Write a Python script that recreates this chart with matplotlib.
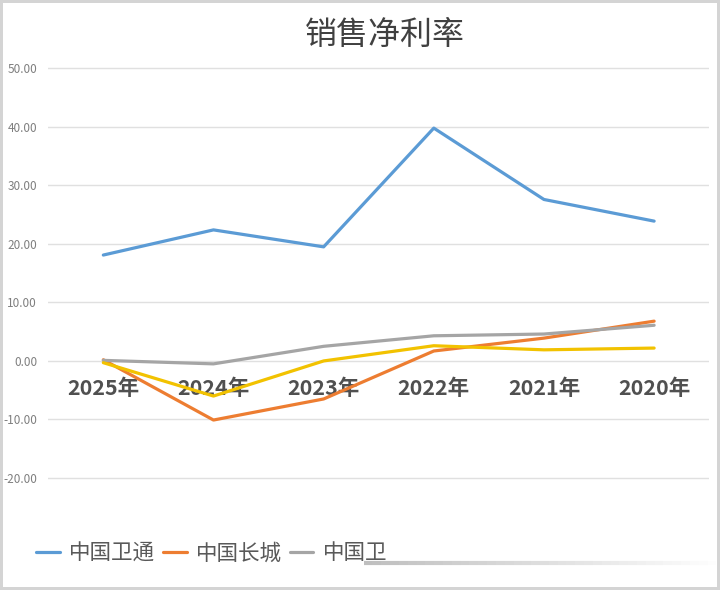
import matplotlib
matplotlib.use('agg')
import matplotlib.pyplot as plt
from matplotlib.collections import LineCollection

plt.rcParams['font.family'] = ['Noto Sans CJK SC', 'DejaVu Sans']

# data
years = ['2025年', '2024年', '2023年', '2022年', '2021年', '2020年']
weitong = [18.1, 22.4, 19.5, 39.8, 27.6, 23.9]
changcheng = [0.2, -10.1, -6.5, 1.7, 3.9, 6.8]
weixing = [0.1, -0.5, 2.5, 4.3, 4.6, 6.1]
fourth = [-0.3, -6.0, 0.0, 2.6, 1.9, 2.2]
series_names = ['中国卫通', '中国长城', '中国卫']
y_ticks = [-20, -10, 0, 10, 20, 30, 40, 50]

fig = plt.figure(figsize=(7.2, 5.9), dpi=100)
fig.patch.set_edgecolor('#d4d4d4')
fig.patch.set_linewidth(3)
ax = fig.add_axes([0.067, 0.18, 0.918, 0.707])

x = list(range(len(years)))
l1, = ax.plot(x, weitong, color='#5B9BD5', lw=2.3, solid_capstyle='round')
l2, = ax.plot(x, changcheng, color='#ED7D31', lw=2.3, solid_capstyle='round')
l3, = ax.plot(x, weixing, color='#A5A5A5', lw=2.3, solid_capstyle='round')
ax.plot(x, fourth, color='#F2C200', lw=2.3, solid_capstyle='round')

ax.set_xlim(-0.5, len(years) - 0.5)
ax.set_ylim(-21, 50.3)
ax.set_yticks(y_ticks)
ax.set_yticklabels(['%.2f' % v for v in y_ticks], color='#7f7f7f', fontsize=8.5)
ax.yaxis.grid(True, color='#e0e0e0', lw=1)
ax.set_axisbelow(True)
ax.tick_params(axis='y', length=0, pad=8)

# category labels sit under the zero line
ax.spines['bottom'].set_position(('data', 0))
ax.set_xticks(x)
ax.set_xticklabels(years, fontsize=15.5, fontweight='bold', color='#505050')
ax.tick_params(axis='x', length=0, pad=12)
for s in ['top', 'right', 'left', 'bottom']:
    ax.spines[s].set_visible(False)

fig.text(0.535, 0.94, '销售净利率', ha='center', va='center',
         fontsize=23, color='#404040')

fig.legend([l1, l2, l3], series_names, loc='center left',
           bbox_to_anchor=(0.023, 0.062), ncol=3, frameon=False,
           fontsize=15.5, handlelength=1.1, handletextpad=0.45,
           columnspacing=0.35, labelcolor='#595959')

# faded strip where the legend got cut off
n = 40
xs = [0.505 + i * (0.49 / n) for i in range(n + 1)]
segs = [[(xs[i], 0.046), (xs[i + 1], 0.046)] for i in range(n)]
cols = [(0.75, 0.75, 0.75, 1 - i / n) for i in range(n)]
fade = LineCollection(segs, colors=cols, linewidths=3, transform=fig.transFigure)
fig.add_artist(fade)

fig.savefig('out.png', dpi=100)
